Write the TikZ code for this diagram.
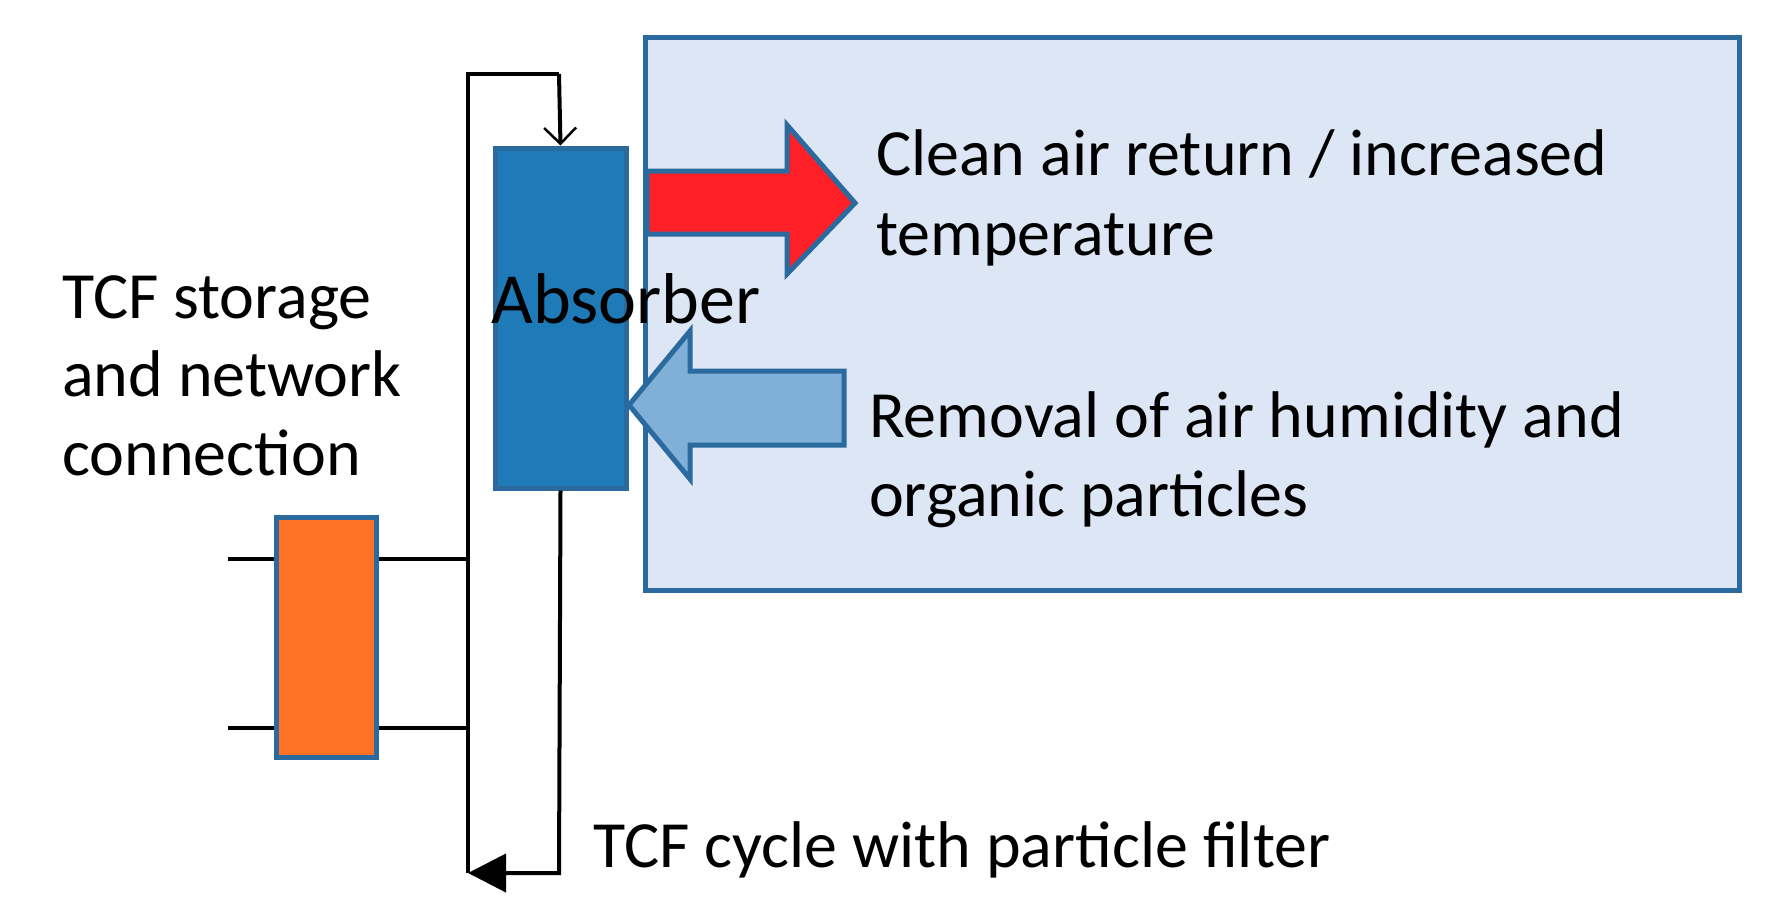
\documentclass[tikz,border=0pt]{standalone}
\usepackage{fontspec}
\setmainfont{Carlito}
\usetikzlibrary{arrows.meta}
\definecolor{bgbox}{HTML}{DCE6F4}
\definecolor{edge}{HTML}{2A6A9E}
\definecolor{absb}{HTML}{1F7AB8}
\definecolor{redA}{HTML}{FF2027}
\definecolor{blueA}{HTML}{80B0D8}
\definecolor{orangeA}{HTML}{FF7225}
\begin{document}
\begin{tikzpicture}[x=1pt,y=-1pt,
  lbl/.style={font=\fontsize{66}{80}\selectfont,align=left,inner sep=0pt},
  pipe/.style={line width=4pt,black},
  box/.style={draw=edge,line width=5pt}]
\useasboundingbox (0,0) rectangle (1776,908);
\filldraw[box,fill=bgbox] (645,37) rectangle (1739,590);
\node[box,fill=absb,minimum width=131pt,minimum height=340pt,inner sep=0pt] (abs) at (560.5,318) {};
\node[box,fill=orangeA,minimum width=100pt,minimum height=240pt,inner sep=0pt] (tank) at (326,637) {};
% arrows
\filldraw[draw=edge,line width=5pt,fill=redA] (647,171) -- (787,171) -- (787,125) -- (855,203) -- (787,274) -- (787,234) -- (647,234) -- cycle;
\filldraw[draw=edge,line width=5pt,fill=blueA] (629,405) -- (690,331) -- (690,371) -- (844,371) -- (844,445) -- (690,445) -- (690,479) -- cycle;
% pipes
\coordinate (tl) at (468,74);
\coordinate (bl) at (468,873);
\coordinate (br) at (559,873);
\coordinate (tr) at (559,74);
\draw[pipe] (bl) -- (tl) -- (tr);
\draw[pipe,-{Straight Barb[length=16pt,width=32pt,line width=2.5pt]}] (tr) -- (abs.north);
\draw[pipe,-{Triangle[length=38pt,width=38pt]}] (abs.south) -- (br) -- (bl);
\draw[pipe] (228,559) -- (tank.west |- 0,559);
\draw[pipe] (228,728) -- (tank.west |- 0,728);
\draw[pipe] (tank.east |- 0,559) -- (468,559);
\draw[pipe] (tank.east |- 0,728) -- (468,728);
% texts
\node[lbl,anchor=base west] (t1) at (876,175) {Clean air return / increased};
\node[lbl,anchor=base west] (t2) at (876,255) {temperature};
\node[lbl,anchor=base,font=\fontsize{72}{80}\selectfont] (t3) at (626,323) {Absorber};
\node[lbl,anchor=base west] (t4) at (62,318) {TCF storage};
\node[lbl,anchor=base west] (t5) at (62,396) {and network};
\node[lbl,anchor=base west] (t6) at (62,475) {connection};
\node[lbl,anchor=base west] (t7) at (869,437) {Removal of air humidity and};
\node[lbl,anchor=base west] (t8) at (869,516) {organic particles};
\node[lbl,anchor=base west] (t9) at (593,867) {TCF cycle with particle filter};
\end{tikzpicture}
\end{document}
